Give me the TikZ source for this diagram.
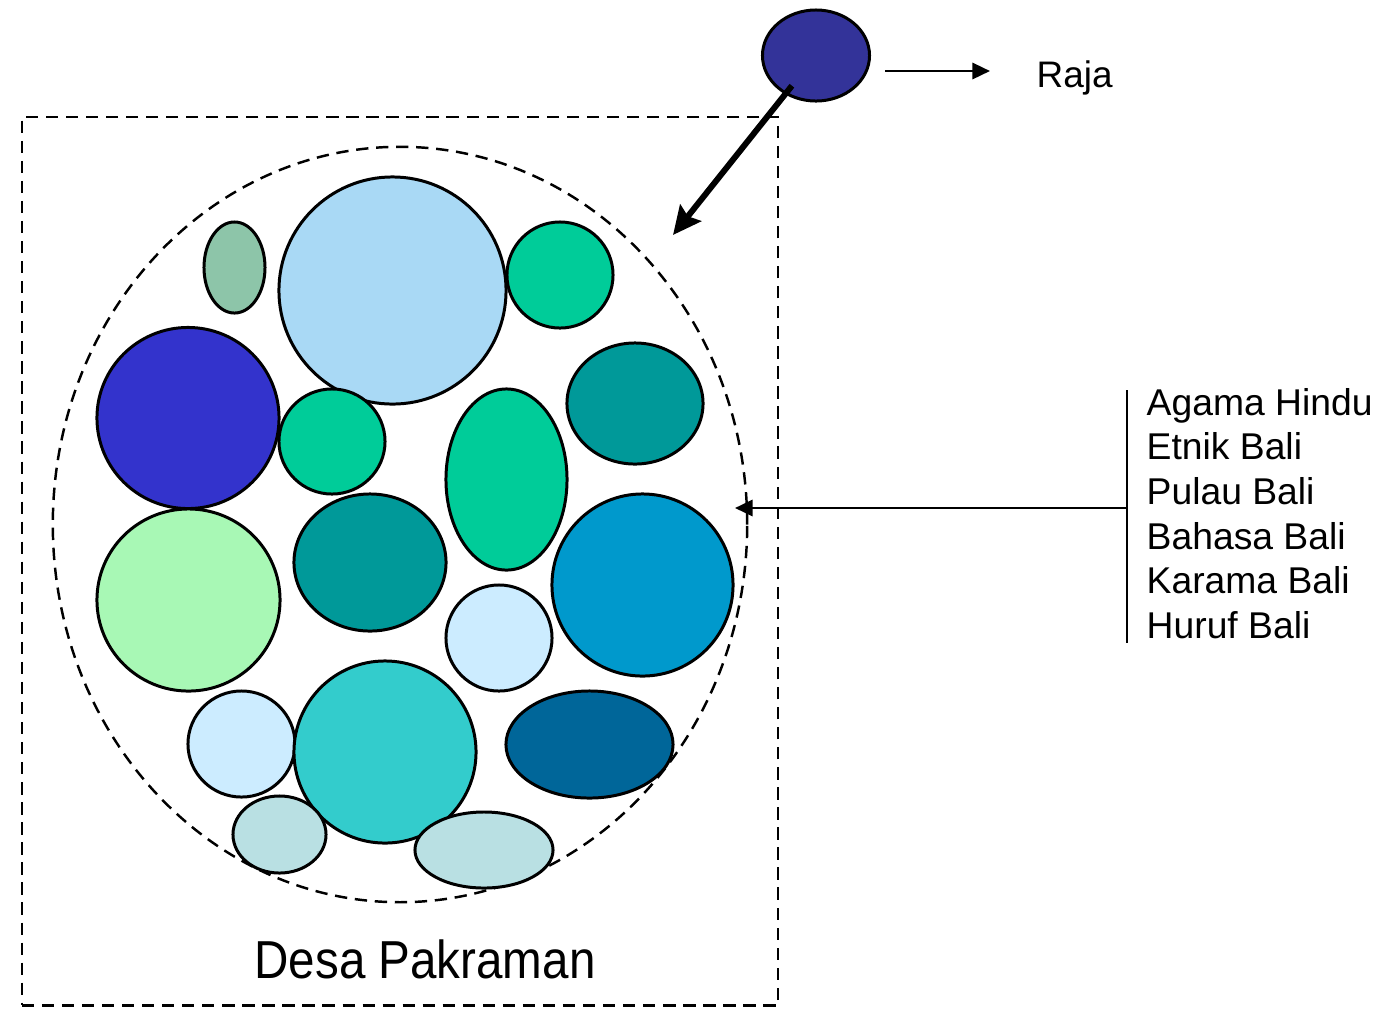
\documentclass[tikz,border=0pt]{standalone}
\usepackage{fontspec}
\setmainfont{Liberation Sans}
\usepackage{graphicx}
\usepackage{tikz}
\usetikzlibrary{arrows.meta}
\usetikzlibrary{shapes.geometric}

\definecolor{rajablue}{HTML}{333399}
\definecolor{sage}{HTML}{8DC5A9}
\definecolor{sky}{HTML}{A9D9F5}
\definecolor{mint}{HTML}{00CC99}
\definecolor{royal}{HTML}{3333CC}
\definecolor{teal}{HTML}{009999}
\definecolor{lightgreen}{HTML}{A8F8B5}
\definecolor{cerulean}{HTML}{0099CC}
\definecolor{pale}{HTML}{CCECFF}
\definecolor{turq}{HTML}{33CCCC}
\definecolor{deepsea}{HTML}{006699}
\definecolor{powder}{HTML}{B9E0E3}

\begin{document}
\begin{tikzpicture}[x=0.01cm,y=-0.01cm,
    ball/.style={draw,ellipse,line width=0.85pt,inner sep=0pt},
    dashline/.style={draw,dash pattern=on 3.5pt off 2.2pt,line width=0.7pt,inner sep=0pt},
    link/.style={line width=0.75pt,-{Triangle[length=5pt,width=4.6pt]}},
    heavy/.style={line width=1.7pt,-{Stealth[length=8pt,width=7.5pt,inset=1.2pt]}},
    item/.style={anchor=base west,inner sep=0pt,font=\fontsize{10.6}{12.5}\selectfont}]
  \useasboundingbox (0,0) rectangle (1375,1008);
  \node[dashline,minimum width=7.56cm,minimum height=8.88cm] (frame) at (400,561) {};
  \node[dashline,ellipse,minimum width=6.94cm,minimum height=7.55cm] (desa) at (400,524.5) {};
  \foreach \n/\x/\y/\w/\h/\c in {
      b1/234.5/267.5/0.61/0.91/sage, b2/392.5/290.5/2.27/2.27/sky,
      b3/560/275/1.06/1.06/mint, b4/188/418/1.82/1.81/royal,
      b5/332/441.5/1.06/1.05/mint, b6/506.5/479.5/1.21/1.81/mint,
      b7/635/403.5/1.36/1.21/teal, b8/188.5/600/1.83/1.82/lightgreen,
      b9/370/562.5/1.52/1.37/teal, b10/642.5/585/1.81/1.82/cerulean,
      b11/499/638/1.06/1.06/pale, b12/241.5/744/1.07/1.06/pale,
      b13/385/752/1.82/1.82/turq, b14/589.5/744.5/1.67/1.07/deepsea,
      b15/279.5/834.5/0.93/0.77/powder, b16/484/850/1.38/0.76/powder}
    \node[ball,fill=\c,minimum width=\w cm,minimum height=\h cm] (\n) at (\x,\y) {};
  \node[anchor=base,inner sep=0pt,font=\fontsize{15.2}{18}\selectfont] (desatext) at (425,978) {\scalebox{0.89}[1]{Desa Pakraman}};

  \node[ball,fill=rajablue,minimum width=1.07cm,minimum height=0.91cm] (raja) at (816,55.5) {};
  \node[anchor=base west,inner sep=0pt,font=\fontsize{10.5}{12}\selectfont] (rajatext) at (1036,87) {Raja};
  \coordinate (r1) at (885,71);
  \coordinate (r2) at (990,71);
  \draw[link] (r1) -- (r2);
  \coordinate (drop) at (673,235);
  \draw[heavy,shorten <=11pt] (raja.center) -- (drop);

  \coordinate (top) at (1127,390);
  \coordinate (bot) at (1127,643);
  \coordinate (mid) at (1127,508);
  \coordinate (hit) at (735,508);
  \draw[line width=0.75pt] (top) -- (bot);
  \draw[link] (mid) -- (hit);
  \foreach \t [count=\i] in {Agama Hindu,Etnik Bali,Pulau Bali,Bahasa Bali,Karama Bali,Huruf Bali}
    \node[item] (ciri\i) at (1146,{370.3+44.7*\i}) {\t};
\end{tikzpicture}
\end{document}
